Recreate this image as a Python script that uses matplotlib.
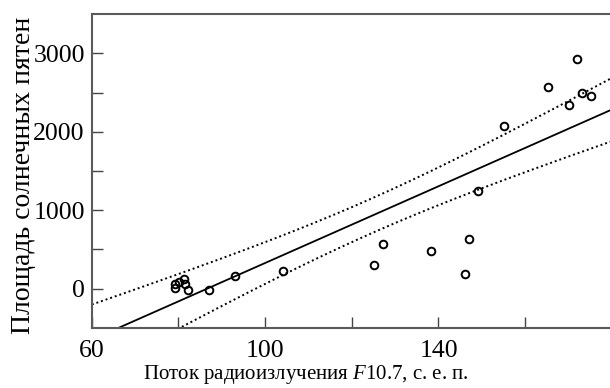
import numpy as np
import matplotlib
matplotlib.use('Agg')
from matplotlib import pyplot as plt

plt.rcParams['font.family'] = 'Liberation Serif'
plt.rcParams['mathtext.fontset'] = 'custom'
plt.rcParams['mathtext.rm'] = 'Liberation Serif'
plt.rcParams['mathtext.it'] = 'Liberation Serif:italic'

# F10.7 flux (s.f.u.) and sunspot area
flux = [79.2, 79.3, 80.2, 81.3, 81.5, 82.2, 87.0, 93.1, 104.1, 125.2, 127.2,
        138.2, 146.1, 147.1, 149.1, 155.1, 165.2, 170.1, 172.0, 173.2, 175.1]
area = [8, 64, 85, 123, 55, -13, -13, 166, 225, 294, 567,
        481, 183, 635, 1246, 2074, 2569, 2338, 2936, 2501, 2462]

# regression line as drawn in the picture
fit_slope = 24.48
fit_intercept = -2122.0
t_band = 1.88  # width factor of the dotted band

x_ticks = [60, 80, 100, 120, 140, 160, 180]
x_tick_labels = ['60', '', '100', '', '140', '', '']
y_ticks = [0, 500, 1000, 1500, 2000, 2500, 3000]
y_tick_labels = ['0', '', '1000', '', '2000', '', '3000']


def band(x, y, xs, slope, icpt, t):
    x = np.asarray(x, float)
    y = np.asarray(y, float)
    resid = y - (slope * x + icpt)
    s = np.sqrt(np.sum(resid ** 2) / (len(x) - 2))
    sxx = np.sum((x - x.mean()) ** 2)
    fit = slope * xs + icpt
    hw = t * s * np.sqrt(1 / len(x) + (xs - x.mean()) ** 2 / sxx)
    return fit, fit - hw, fit + hw


fig = plt.figure(figsize=(6.1, 3.88), dpi=100)
ax = fig.add_axes([0.1505, 0.1554, 0.8525, 0.8077])

xs = np.linspace(60, 180, 300)
fit, lo, hi = band(flux, area, xs, fit_slope, fit_intercept, t_band)

ax.plot(xs, fit, color='black', lw=1.3)
ax.plot(xs, hi, color='black', lw=1.4, linestyle=(0, (1, 1.5)))
ax.plot(xs, lo, color='black', lw=1.4, linestyle=(0, (1, 1.5)))
ax.plot(flux, area, 'o', mfc='none', mec='black', mew=1.4, ms=5.5)

ax.set_xlim(60, 180)
ax.set_ylim(-500, 3500)
ax.set_xticks(x_ticks)
ax.set_xticklabels(x_tick_labels)
ax.set_yticks(y_ticks)
ax.set_yticklabels(y_tick_labels)
ax.tick_params(direction='in', length=8, width=1.0, labelsize=18.5, color='#444444')
ax.tick_params(axis='x', pad=9)
ax.tick_params(axis='y', pad=5)

for side in ['left', 'top', 'bottom', 'right']:
    ax.spines[side].set_color('#5a5a5a')
    ax.spines[side].set_linewidth(1.5)

ax.set_xlabel('Поток радиоизлучения $\\mathit{F}$10.7, с. е. п.', fontsize=15)
ax.xaxis.set_label_coords(0.412, -0.113)
ax.set_ylabel('Площадь солнечных пятен', fontsize=20)
ax.yaxis.set_label_coords(-0.108, 0.485)

fig.savefig('out.png', dpi=100)
